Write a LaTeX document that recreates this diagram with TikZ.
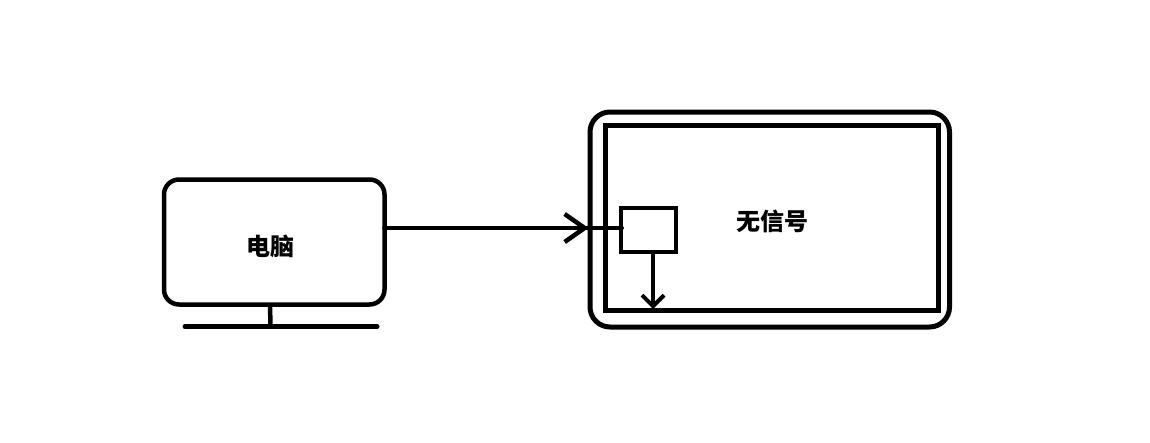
\documentclass[tikz,border=0pt]{standalone}
\usepackage{fontspec}
\newfontfamily\cjk{Noto Sans CJK SC}
\usetikzlibrary{arrows.meta,decorations.markings}
\begin{document}
\begin{tikzpicture}[x=1pt,y=-1pt,
  thick line/.style={line width=4.5pt},
  lbl/.style={font=\cjk\bfseries\fontsize{24}{24}\selectfont, inner sep=0pt},
  bigbarb/.style={line width=4.5pt, line cap=round, line join=miter}
]
\useasboundingbox (0,0) rectangle (1150,442);
% computer
\draw[thick line, rounded corners=15pt] (164,179.5) rectangle (384.5,304.5);
\node[inner sep=0pt, minimum width=220pt, minimum height=125pt] (pc) at (274.25,242) {};
\node[lbl] (pclabel) at (270,246) {电脑};
\coordinate (neck) at (270,304.5);
\coordinate (baseL) at (185,326.5);
\coordinate (baseR) at (377,326.5);
\coordinate (neckB) at (270.5,326.5);
\draw[line width=4.5pt] (neck) -- (neckB);
\draw[line width=5pt, line cap=round] (baseL) -- (baseR);
% monitor
\draw[line width=5pt, rounded corners=20pt] (590,112) rectangle (949.5,327);
\draw[line width=5pt] (605,125) rectangle (938,310);
\node[inner sep=0pt, minimum width=333pt, minimum height=185pt] (screen) at (771.5,217.5) {};
\node[lbl] (msg) at (772,221) {无信号};
% small box
\node[draw, line width=4.5pt, minimum width=55pt, minimum height=44pt, inner sep=0pt] (sb) at (648.5,230) {};
% horizontal connector
\draw[thick line, line cap=round,
  postaction={decorate, decoration={markings, mark=at position 0.86 with {\arrow[bigbarb]{Straight Barb[length=20pt,width=28pt,line width=4.5pt]}}}}]
  (pc.east |- 0,228) -- ([xshift=3pt]sb.west |- 0,228);
% vertical connector
\draw[line width=4pt, -{Straight Barb[length=11pt,width=22pt,line width=4pt]}, line cap=round]
  (sb.south -| 653,0) -- (653,309);
\end{tikzpicture}
\end{document}
